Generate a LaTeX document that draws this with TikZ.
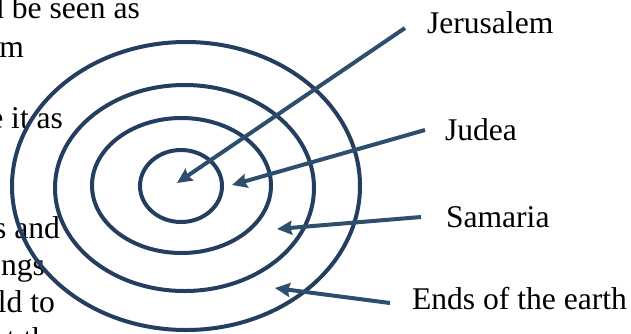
\documentclass[tikz,border=0pt]{standalone}
\usepackage{fontspec}
\setmainfont{Liberation Serif}
\usetikzlibrary{arrows.meta}
\definecolor{ringcol}{RGB}{36,62,95}
\definecolor{arrowcol}{RGB}{45,78,108}
\tikzset{
  ring/.style={draw=ringcol, line width=4pt},
  pointer/.style={draw=arrowcol, line width=4pt, -{Stealth[length=15pt,width=14pt,inset=2pt]}},
  label/.style={inner sep=0pt, outer sep=0pt, anchor=base west, font=\fontsize{31.6}{38}\selectfont},
  sidetext/.style={inner sep=0pt, outer sep=0pt, anchor=base east, font=\fontsize{31.6}{38}\selectfont},
}
\begin{document}
\begin{tikzpicture}[x=1pt,y=-1pt]
\useasboundingbox (0,0) rectangle (631,333);
\fill[white] (0,0) rectangle (631,333);
% partial paragraph text at the left edge
\node[sidetext] (t1) at (140,18) {d be seen as};
\node[sidetext] (t2) at (24,57) {m};
\node[sidetext] (t3) at (63,128) {e it as};
\node[sidetext] (t4) at (60,238) {s and};
\node[sidetext] (t5) at (45,275) {ngs};
\node[sidetext] (t6) at (55,312) {ld to};
\node[sidetext] (t7) at (62,349) {t the};
% concentric rings
\draw[ring] (186,186) ellipse [x radius=174pt, y radius=144pt];
\draw[ring] (184.5,188) ellipse [x radius=129.5pt, y radius=103pt];
\draw[ring] (181.5,185.5) ellipse [x radius=89.5pt, y radius=67.5pt];
\draw[ring] (181,186) ellipse [x radius=41pt, y radius=36pt];
% labels
\node[label] (jer) at (427,33) {Jerusalem};
\node[label] (jud) at (445,140) {Judea};
\node[label] (sam) at (446,227) {Samaria};
\node[label] (end) at (412,309) {Ends of the earth};
% connector ends
\coordinate (jerS) at (405,28);
\coordinate (jerT) at (177,183);
\coordinate (judS) at (425,130);
\coordinate (judT) at (232,185);
\coordinate (samS) at (421,217);
\coordinate (samT) at (277,229);
\coordinate (endS) at (390,303);
\coordinate (endT) at (275,288);
\draw[pointer] (jerS) -- (jerT);
\draw[pointer] (judS) -- (judT);
\draw[pointer] (samS) -- (samT);
\draw[pointer] (endS) -- (endT);
\end{tikzpicture}
\end{document}
